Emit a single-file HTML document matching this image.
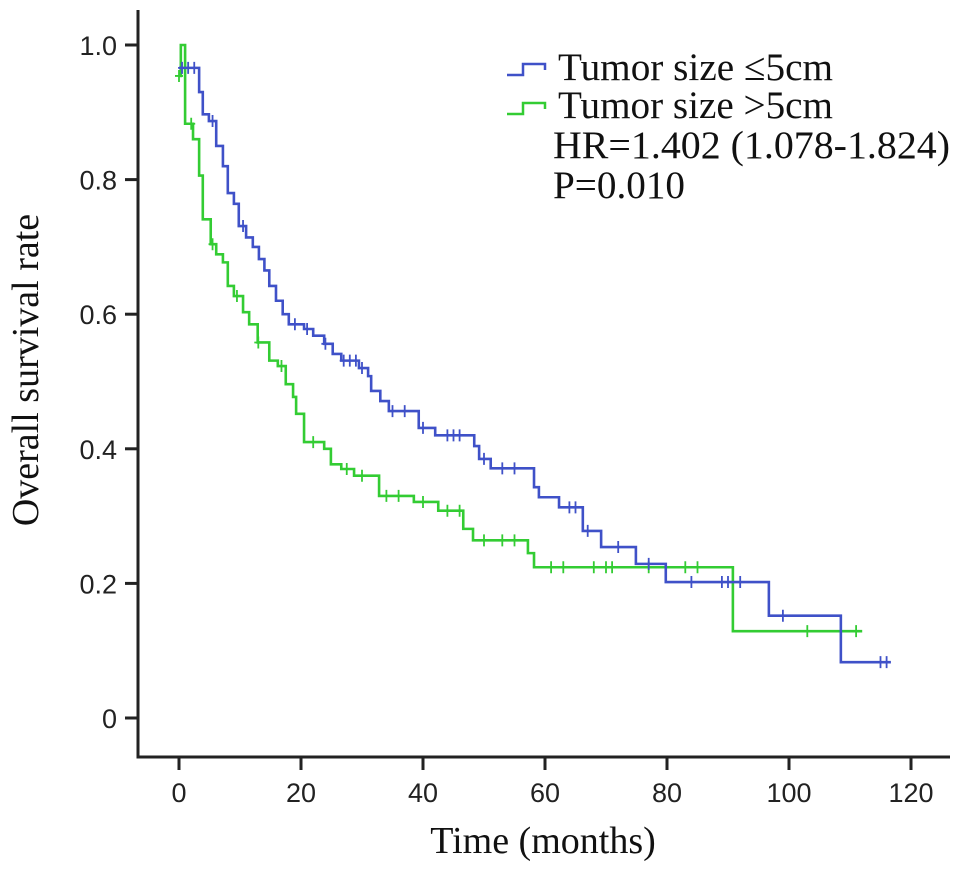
<!DOCTYPE html>
<html><head><meta charset="utf-8"><style>
html,body{margin:0;padding:0;background:#fff;width:975px;height:872px;overflow:hidden}
svg{display:block}
.tk{font-family:"Liberation Sans",sans-serif;font-size:27px;fill:#222}
.ser{font-family:"Liberation Serif",serif;fill:#111}
</style></head><body>
<svg id="chart" width="975" height="872" xmlns="http://www.w3.org/2000/svg">
<g id="axes"></g>
<g id="series"></g>
<g>
  <path d="M507,75 H523 V64 H545 V70" fill="none" stroke="#3f51c8" stroke-width="2.5"/>
  <text class="ser" x="558" y="80" font-size="39" textLength="275" lengthAdjust="spacingAndGlyphs">Tumor size ≤5cm</text>
  <path d="M507,114 H523 V103 H545 V109" fill="none" stroke="#33cc33" stroke-width="2.5"/>
  <text class="ser" x="558" y="118" font-size="39" textLength="275" lengthAdjust="spacingAndGlyphs">Tumor size &gt;5cm</text>
  <text class="ser" x="553" y="158" font-size="39" textLength="397" lengthAdjust="spacingAndGlyphs">HR=1.402 (1.078-1.824)</text>
  <text class="ser" x="553" y="198" font-size="39" textLength="132" lengthAdjust="spacingAndGlyphs">P=0.010</text>
</g>
<text class="ser" x="543" y="853" font-size="38" text-anchor="middle">Time (months)</text>
<text class="ser" x="0" y="0" font-size="38" text-anchor="middle" transform="translate(38,370) rotate(-90)">Overall survival rate</text>
</svg>
<script>
const xTicks=[0,20,40,60,80,100,120];
const yTicks=[0,0.2,0.4,0.6,0.8,1.0];
const yTickLabels=["0","0.2","0.4","0.6","0.8","1.0"];
const smallStart=0.966;
const smallTimes=[3.3,3.9,4.9,6.1,7.2,8,9,9.8,11,12.1,13.1,14,14.8,15.9,17,18,20.5,22,23.8,25.2,26.6,29.5,31,31.5,33,34.4,39.3,42,48.4,49.2,51.1,58.2,59,62.3,66.2,69.2,74.9,79.8,96.7,108.5];
const smallSurv=[0.930,0.897,0.887,0.85,0.82,0.78,0.764,0.731,0.714,0.70,0.682,0.665,0.642,0.62,0.60,0.585,0.578,0.568,0.556,0.541,0.531,0.52,0.508,0.486,0.471,0.456,0.431,0.42,0.404,0.385,0.371,0.343,0.328,0.313,0.278,0.254,0.229,0.202,0.152,0.083];
const smallEnd=116.7;
const smallCensor=[0.5,1.5,2.5,5.5,10.5,19,21,24,27,28,29,30,35,37,40,44,45,46,50,53,55,64,65,67,72,77,84,89,90,92,99,115,116];
const largeStart=0.954;
const largeTimes=[0.3,1.0,2.3,3.3,3.9,5.2,6.1,7.2,8,9,10.5,11.5,12.9,14.8,16.2,17.5,18.7,19.2,20.5,23.8,24.9,26.6,28.7,32.8,38.5,42.5,46.6,48.2,57.2,58.2,90.8];
const largeSurv=[1.0,0.883,0.86,0.806,0.741,0.704,0.689,0.677,0.642,0.627,0.603,0.585,0.558,0.531,0.523,0.496,0.477,0.452,0.41,0.40,0.377,0.370,0.36,0.33,0.321,0.308,0.281,0.264,0.245,0.224,0.129];
const largeEnd=112;
const largeCensor=[0,2,5.5,9.5,13,16.8,22,27.5,30,34,36,40,44,46,50,53,55,61,63,68,70,71,77,83,85,103,111];

const NS='http://www.w3.org/2000/svg';
const X=t=>179+6.1*t;
const Y=s=>718-673*s;
function mk(tag,attrs,parent){const e=document.createElementNS(NS,tag);for(const k in attrs)e.setAttribute(k,attrs[k]);parent.appendChild(e);return e;}
const axes=document.getElementById('axes');
const yl=mk('path',{d:'M138,10 V757 H950',fill:'none',stroke:'#222','stroke-width':3},axes);


xTicks.forEach(v=>{
  const l=mk('line',{x1:X(v),x2:X(v),y1:757,y2:770,stroke:'#222','stroke-width':3},axes);
  
  
  const t=mk('text',{x:X(v),y:802,'text-anchor':'middle',class:'tk'},axes);t.textContent=v;
  
  
});
yTicks.forEach((v,i)=>{
  const l=mk('line',{x1:125,x2:138,y1:Y(v),y2:Y(v),stroke:'#222','stroke-width':3},axes);
  
  
  const t=mk('text',{x:117,y:Y(v)+10,'text-anchor':'end',class:'tk'},axes);t.textContent=yTickLabels[i];
  
  
});
const ser=document.getElementById('series');
function survAt(t,start,times,surv){let s=start;for(let i=0;i<times.length;i++){if(times[i]<=t)s=surv[i];}return s;}
function draw(start,times,surv,end,cens,color,name){
  let d='M'+X(0)+','+Y(start);
  times.forEach((t,i)=>{d+=' H'+X(t)+' V'+Y(surv[i]);});
  d+=' H'+X(end);
  const p=mk('path',{d:d,fill:'none',stroke:color,'stroke-width':2.6},ser);
  
  
  cens.forEach(c=>{
    const y=Y(survAt(c,start,times,surv));
    const m=mk('path',{d:'M'+X(c)+','+(y-6)+' V'+(y+6)+' M'+(X(c)-4)+','+y+' H'+(X(c)+4),stroke:color,'stroke-width':1.8,fill:'none'},ser);
    
    
  });
}
draw(largeStart,largeTimes,largeSurv,largeEnd,largeCensor,'#33cc33','large-tumor');
draw(smallStart,smallTimes,smallSurv,smallEnd,smallCensor,'#3f51c8','small-tumor');
</script>
</body></html>
